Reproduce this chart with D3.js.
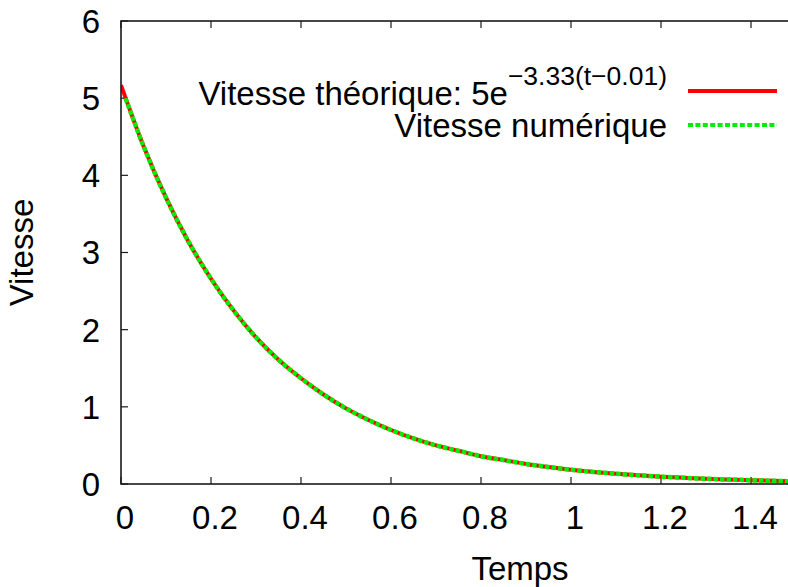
<!DOCTYPE html>
<html>
<head>
<meta charset="utf-8">
<script src="https://cdn.jsdelivr.net/npm/d3@7"></script>
<style>
  html, body { margin: 0; padding: 0; background: #fff; overflow: hidden; }
  svg { display: block; font-family: "Liberation Sans", Arial, Helvetica, sans-serif; }
</style>
</head>
<body>
<svg id="chart" width="788" height="587"></svg>
<script>
// ---- Data ----
const timeTheo = [0, 0.05, 0.1, 0.15, 0.2, 0.25, 0.3, 0.35, 0.4, 0.45, 0.5, 0.55, 0.6, 0.65, 0.7, 0.75, 0.8, 0.85, 0.9, 0.95, 1.0, 1.05, 1.1, 1.15, 1.2, 1.25, 1.3, 1.35, 1.4, 1.45, 1.5];
const speedTheo = [5.17, 4.38, 3.71, 3.14, 2.66, 2.25, 1.90, 1.61, 1.37, 1.16, 0.98, 0.83, 0.70, 0.59, 0.50, 0.43, 0.36, 0.31, 0.26, 0.22, 0.185, 0.157, 0.133, 0.112, 0.095, 0.081, 0.068, 0.058, 0.049, 0.041, 0.035];
const timeNum = [0.01, 0.05, 0.1, 0.15, 0.2, 0.25, 0.3, 0.35, 0.4, 0.45, 0.5, 0.55, 0.6, 0.65, 0.7, 0.75, 0.8, 0.85, 0.9, 0.95, 1.0, 1.05, 1.1, 1.15, 1.2, 1.25, 1.3, 1.35, 1.4, 1.45, 1.5];
const speedNum = [5.00, 4.38, 3.71, 3.14, 2.66, 2.25, 1.90, 1.61, 1.37, 1.16, 0.98, 0.83, 0.70, 0.59, 0.50, 0.43, 0.36, 0.31, 0.26, 0.22, 0.185, 0.157, 0.133, 0.112, 0.095, 0.081, 0.068, 0.058, 0.049, 0.041, 0.035];
const xTicks = [0, 0.2, 0.4, 0.6, 0.8, 1, 1.2, 1.4];
const xTickLabels = ["0", "0.2", "0.4", "0.6", "0.8", "1", "1.2", "1.4"];
const yTicks = [0, 1, 2, 3, 4, 5, 6];
const yTickLabels = ["0", "1", "2", "3", "4", "5", "6"];
const seriesNames = ["Vitesse théorique: 5e", "Vitesse numérique"];
const exponentText = "\u22123.33(t\u22120.01)";
const xTitle = "Temps";
const yTitle = "Vitesse";

// ---- Layout ----
const pLeft = 121, pTop = 21, pBottom = 484, pRight = 796;
const svg = d3.select("#chart");
const x = d3.scaleLinear().domain([0, 1.5]).range([pLeft, pRight]);
const y = d3.scaleLinear().domain([0, 6]).range([pBottom, pTop]);
const fontSize = 33;
const axisColor = "#1a1a1a";

svg.append("defs").append("clipPath").attr("id", "plotclip")
  .append("rect").attr("x", pLeft).attr("y", pTop).attr("width", pRight - pLeft).attr("height", pBottom - pTop);

// Ticks (inward, mirrored)
const tickLen = 7;
const tg = svg.append("g").attr("stroke", axisColor).attr("stroke-width", 1.2);
xTicks.forEach(t => {
  tg.append("line").attr("x1", x(t)).attr("x2", x(t)).attr("y1", pBottom).attr("y2", pBottom - tickLen);
  tg.append("line").attr("x1", x(t)).attr("x2", x(t)).attr("y1", pTop).attr("y2", pTop + tickLen);
});
yTicks.forEach(v => {
  tg.append("line").attr("x1", pLeft).attr("x2", pLeft + tickLen).attr("y1", y(v)).attr("y2", y(v));
  tg.append("line").attr("x1", pRight).attr("x2", pRight - tickLen).attr("y1", y(v)).attr("y2", y(v));
});

// Tick labels
svg.append("g").selectAll("text").data(xTicks).join("text")
  .attr("x", d => x(d) + 4).attr("y", 529)
  .attr("text-anchor", "middle").attr("font-size", fontSize).attr("fill", "#000")
  .text((d, i) => xTickLabels[i]);
svg.append("g").selectAll("text").data(yTicks).join("text")
  .attr("x", 100).attr("y", d => y(d)).attr("dy", "0.36em")
  .attr("text-anchor", "end").attr("font-size", fontSize).attr("fill", "#000")
  .text((d, i) => yTickLabels[i]);

// Axis titles
svg.append("text").attr("x", 520).attr("y", 580).attr("text-anchor", "middle")
  .attr("font-size", fontSize).attr("fill", "#000").text(xTitle);
svg.append("text").attr("transform", `translate(33,${(pTop + pBottom) / 2}) rotate(-90)`)
  .attr("text-anchor", "middle").attr("font-size", fontSize).attr("fill", "#000").text(yTitle);

// Curves
const theo = timeTheo.map((t, i) => [t, speedTheo[i]]);
const num = timeNum.map((t, i) => [t, speedNum[i]]);
const line = d3.line().x(d => x(d[0])).y(d => y(d[1])).curve(d3.curveMonotoneX);
const plot = svg.append("g").attr("clip-path", "url(#plotclip)");
plot.append("path").datum(theo).attr("d", line)
  .attr("fill", "none").attr("stroke", "#ff0000").attr("stroke-width", 4);
plot.append("path").datum(num).attr("d", line)
  .attr("fill", "none").attr("stroke", "#00ee00").attr("stroke-width", 4.5)
  .attr("stroke-dasharray", "4.5,2");

// Border
svg.append("rect").attr("x", pLeft).attr("y", pTop).attr("width", pRight - pLeft).attr("height", pBottom - pTop)
  .attr("fill", "none").attr("stroke", axisColor).attr("stroke-width", 1.6);

// Legend
const lg = svg.append("g");
const t1 = lg.append("text").attr("x", 667).attr("y", 105).attr("text-anchor", "end")
  .attr("font-size", fontSize).attr("fill", "#000");
t1.append("tspan").text(seriesNames[0]);
t1.append("tspan").attr("font-size", 26.5).attr("dy", -20).text(exponentText);
lg.append("line").attr("x1", 688).attr("x2", 777).attr("y1", 91).attr("y2", 91)
  .attr("stroke", "#ff0000").attr("stroke-width", 4);
lg.append("text").attr("x", 667).attr("y", 137).attr("text-anchor", "end")
  .attr("font-size", fontSize).attr("fill", "#000").text(seriesNames[1]);
lg.append("line").attr("x1", 688).attr("x2", 777).attr("y1", 125).attr("y2", 125)
  .attr("stroke", "#00ee00").attr("stroke-width", 4).attr("stroke-dasharray", "5,2.4");
</script>
</body>
</html>
